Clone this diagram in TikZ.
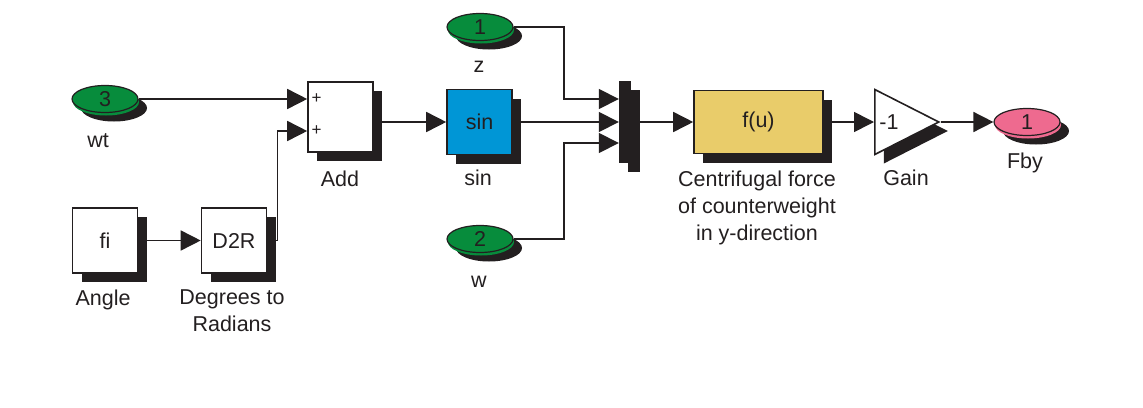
\documentclass[tikz,border=0pt]{standalone}
\usepackage{fontspec}
\setmainfont{Liberation Sans}
\usetikzlibrary{arrows.meta,positioning,calc,shapes.geometric,shadows}
\definecolor{inport}{HTML}{078C3C}
\definecolor{outport}{HTML}{EE6A8F}
\definecolor{sinblue}{HTML}{0096D6}
\definecolor{fcnyellow}{HTML}{E9CC6A}
\definecolor{ink}{HTML}{231F20}
\tikzset{
  txt/.style={font=\fontsize{21.5}{27}\selectfont, text=ink},
  shade/.style={drop shadow={shadow xshift=9pt, shadow yshift=-9pt, fill=ink, opacity=1}},
  blk/.style={txt, rectangle, draw=ink, line width=1.6pt, fill=white, inner sep=0pt,
    minimum width=65pt, minimum height=65pt, shade},
  port/.style={txt, ellipse, draw=ink, line width=1.2pt, inner sep=0pt, minimum width=66pt,
    minimum height=27pt, shade,
    drop shadow={shadow xshift=1pt, shadow yshift=-3pt, fill=#1, opacity=1}, fill=#1},
  lbl/.style={txt, anchor=base, align=center},
  sig/.style={line width=1.6pt, draw=ink, -{Triangle[length=20pt,width=20pt]}},
}

\begin{document}
\begin{tikzpicture}[x=1pt, y=-1pt]
\useasboundingbox (0,0) rectangle (1143,407);
% sources
\node[port=inport] (wt) at (105,99) {3};
\node[lbl] (wtlbl) at (98,147) {wt};
\node[blk] (fi) at (105,240.5) {fi};
\node[lbl] (filbl) at (103,305) {Angle};
\node[blk] (d2r) at (234,240.5) {D2R};
% base of a two-line label is its last line
\node[lbl] (d2rlbl) at (232,331) {Degrees to\\Radians};
% sum
\node[blk, minimum height=70pt] (add) at (340.5,117) {};
\node[lbl] (addlbl) at (340,186) {Add};
\coordinate (addin1) at ($(add.west)+(0,-18)$);
\coordinate (addin2) at ($(add.west)+(0,14)$);
\node[txt, font=\fontsize{17}{17}\selectfont, right=1pt of addin1] (addp1) {+};
\node[txt, font=\fontsize{17}{17}\selectfont, right=1pt of addin2] (addp2) {+};
% sin and the other inports
\node[blk, fill=sinblue] (sin) at (479.5,122) {sin};
\node[lbl] (sinlbl) at (478,185) {sin};
\node[port=inport] (z) at (480,27) {1};
\node[lbl] (zlbl) at (479,72) {z};
\node[port=inport] (w) at (480,239) {2};
\node[lbl] (wlbl) at (479,287) {w};
% mux
\node[rectangle, fill=ink, inner sep=0pt, minimum width=12pt, minimum height=82pt, shade] (mux) at (625,122) {};
\coordinate (mux1) at ($(mux.west)+(0,-23)$);
\coordinate (mux3) at ($(mux.west)+(0,21)$);
% fcn, gain, outport
\node[blk, fill=fcnyellow, minimum width=129pt, minimum height=63pt] (fcn) at (758.5,122) {f(u)};
\node[lbl] (fcnlbl) at (757,240) {Centrifugal force\\of counterweight\\in y-direction};
\node[isosceles triangle, isosceles triangle stretches, draw=ink, line width=1.6pt, fill=white,
  inner sep=0pt, minimum width=65pt, minimum height=64pt, shade, anchor=west] (gain) at (874,122) {};
\node[txt] (gaintxt) at ([xshift=15pt]gain.west) {-1};
\node[lbl] (gainlbl) at (906,185) {Gain};
\node[port=outport] (fby) at (1027,122) {1};
\node[lbl] (fbylbl) at (1025,168) {Fby};
% signals
\draw[sig] (wt.east) -- (addin1);
\draw[sig] (fi.east) -- (d2r.west);
\draw[sig] (d2r.east) -- ++(10,0) |- (addin2);
\draw[sig] (sin.west -| add.east) -- (sin.west);
\draw[sig] (z.east) -| ($(mux1)+(-55,0)$) -- (mux1);
\draw[sig] (sin.east) -- (mux.west);
\draw[sig] (w.east) -| ($(mux3)+(-55,0)$) -- (mux3);
\draw[sig] (mux.east) -- (fcn.west);
\draw[sig] (fcn.east) -- (gain.west);
\draw[sig] (gain.east) -- (fby.west);
\end{tikzpicture}
\end{document}
